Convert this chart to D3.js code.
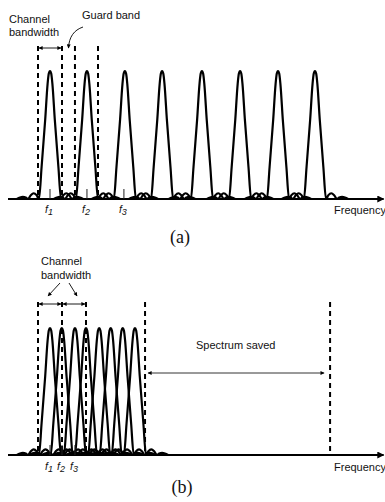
<!DOCTYPE html>
<html>
<head>
<meta charset="utf-8">
<script src="https://cdn.jsdelivr.net/npm/d3@7"></script>
<style>
  html, body { margin: 0; padding: 0; background: #fff; }
  text { font-family: "Liberation Sans", Arial, sans-serif; fill: #111; }
</style>
</head>
<body>
<div id="chart"></div>
<script>
// frequency unit = one channel bandwidth
const carriersA = [0.5, 2.04, 3.62, 5.17, 6.83, 8.42, 10.0, 11.54];
const carriersB = [0.5, 0.99, 1.54, 2.0, 2.55, 3.03, 3.53, 4.04];
const dashedA = [0, 1, 1.54, 2.5];
const dashedB = [0, 1, 2, 4.46, 12.17];
const fTicksA = [0.5, 2.04, 3.58];
const fTicksB = [0.5, 1.0, 1.54];
const fLabels = ['1', '2', '3'];
const bandwidthArrowsB = [[0, 1], [1, 2]];
const savedRange = [4.46, 12.17];
const axisRange = [-1.25, 14.4];
// one carrier's spectrum shape: [offset from centre, relative level]
const lobe = [
  [-1.38, 0], [-1.25, 0.012], [-1.13, 0.016], [-1.01, 0.012], [-0.92, 0],
  [-0.8, 0.03], [-0.68, 0.045], [-0.56, 0.03], [-0.46, 0],
  [-0.35, 0.25], [-0.2, 0.62], [-0.1, 0.9], [-0.05, 0.98], [0, 1],
  [0.05, 0.98], [0.1, 0.9], [0.2, 0.62], [0.35, 0.25],
  [0.46, 0], [0.56, 0.03], [0.68, 0.045], [0.8, 0.03], [0.92, 0],
  [1.01, 0.012], [1.13, 0.016], [1.25, 0.012], [1.38, 0]
];

const W = 385, H = 502;
const svg = d3.select('#chart').append('svg')
  .attr('width', W).attr('height', H);

const defs = svg.append('defs');
defs.append('marker').attr('id', 'axisHead')
  .attr('viewBox', '0 0 10 10').attr('refX', 9).attr('refY', 5)
  .attr('markerWidth', 10).attr('markerHeight', 7).attr('markerUnits', 'userSpaceOnUse')
  .attr('orient', 'auto')
  .append('path').attr('d', 'M0,0L10,5L0,10Z').attr('fill', '#000');
defs.append('marker').attr('id', 'smallHead')
  .attr('viewBox', '0 0 10 10').attr('refX', 9).attr('refY', 5)
  .attr('markerWidth', 5).attr('markerHeight', 4).attr('markerUnits', 'userSpaceOnUse')
  .attr('orient', 'auto-start-reverse')
  .append('path').attr('d', 'M0,0L10,5L0,10Z').attr('fill', '#000');

const x = d3.scaleLinear().domain([0, 1]).range([38, 62]);

const lobeLine = (y, c) => d3.line()
  .x(d => x(c + d[0]))
  .y(d => y(d[1]))
  .curve(d3.curveMonotoneX)(lobe);

function drawPanel(y, carriers, dashed, ticks, dashTop, labelY) {
  const g = svg.append('g');
  const base = y(0);

  // dashed channel edges
  g.selectAll('.edge').data(dashed).enter().append('line')
    .attr('x1', d => x(d)).attr('x2', d => x(d))
    .attr('y1', dashTop).attr('y2', base)
    .attr('stroke', '#000').attr('stroke-width', 2)
    .attr('stroke-dasharray', '5,4');

  // carriers
  g.selectAll('.carrier').data(carriers).enter().append('path')
    .attr('d', d => lobeLine(y, d))
    .attr('fill', 'none').attr('stroke', '#000')
    .attr('stroke-width', 2.2).attr('stroke-linejoin', 'round');

  // frequency axis
  g.append('line')
    .attr('x1', x(axisRange[0])).attr('x2', x(axisRange[1]))
    .attr('y1', base).attr('y2', base)
    .attr('stroke', '#000').attr('stroke-width', 2.2)
    .attr('marker-end', 'url(#axisHead)');

  g.selectAll('.tick').data(ticks).enter().append('line')
    .attr('x1', d => x(d)).attr('x2', d => x(d))
    .attr('y1', base).attr('y2', base - 10)
    .attr('stroke', '#222').attr('stroke-width', 1);

  const lab = g.selectAll('.flab').data(ticks).enter().append('text')
    .attr('x', d => x(d) - 1).attr('y', labelY)
    .attr('text-anchor', 'middle')
    .style('font-size', '10.5px').style('font-style', 'italic');
  lab.append('tspan').text('f');
  lab.append('tspan').attr('dy', 1.5).style('font-size', '9px')
    .text((d, i) => fLabels[i]);

  g.append('text').attr('x', 334).attr('y', labelY + 1)
    .style('font-size', '11px').text('Frequency');
  return g;
}

// ---- panel (a)
const yA = d3.scaleLinear().domain([0, 1]).range([199, 71]);
const gA = drawPanel(yA, carriersA, dashedA, fTicksA, 46, 213);

gA.append('text').attr('x', 9).attr('y', 23).style('font-size', '11px').text('Channel');
gA.append('text').attr('x', 9).attr('y', 36).style('font-size', '11px').text('bandwidth');
gA.append('line')
  .attr('x1', x(0) + 1).attr('x2', x(1) - 1).attr('y1', 48).attr('y2', 48)
  .attr('stroke', '#000').attr('stroke-width', 0.9)
  .attr('marker-start', 'url(#smallHead)').attr('marker-end', 'url(#smallHead)');
gA.append('text').attr('x', 82).attr('y', 19).style('font-size', '11px').text('Guard band');
gA.append('path')
  .attr('d', 'M83,27 C74,30 69,37 68.5,48')
  .attr('fill', 'none').attr('stroke', '#000').attr('stroke-width', 0.9)
  .attr('marker-end', 'url(#smallHead)');
gA.append('text').attr('x', 180).attr('y', 243).attr('text-anchor', 'middle')
  .style('font-family', '"Liberation Serif", "Times New Roman", serif')
  .style('font-size', '18px').text('(a)');

// ---- panel (b)
const yB = d3.scaleLinear().domain([0, 1]).range([455, 328]);
const gB = drawPanel(yB, carriersB, dashedB, fTicksB, 302, 470);

gB.append('text').attr('x', 41).attr('y', 265).style('font-size', '11px').text('Channel');
gB.append('text').attr('x', 41).attr('y', 279).style('font-size', '11px').text('bandwidth');
gB.selectAll('.bw').data(bandwidthArrowsB).enter().append('line')
  .attr('x1', d => x(d[0]) + 1).attr('x2', d => x(d[1]) - 1)
  .attr('y1', 304).attr('y2', 304)
  .attr('stroke', '#000').attr('stroke-width', 0.9)
  .attr('marker-start', 'url(#smallHead)').attr('marker-end', 'url(#smallHead)');
gB.append('line').attr('x1', 60).attr('y1', 283).attr('x2', 48).attr('y2', 296)
  .attr('stroke', '#000').attr('stroke-width', 0.9).attr('marker-end', 'url(#smallHead)');
gB.append('line').attr('x1', 69).attr('y1', 283).attr('x2', 77).attr('y2', 296)
  .attr('stroke', '#000').attr('stroke-width', 0.9).attr('marker-end', 'url(#smallHead)');

gB.append('text').attr('x', 196).attr('y', 349).style('font-size', '11px').text('Spectrum saved');
gB.append('line')
  .attr('x1', x(savedRange[0]) + 3).attr('x2', x(savedRange[1]) - 6)
  .attr('y1', 373).attr('y2', 373)
  .attr('stroke', '#000').attr('stroke-width', 0.8)
  .attr('marker-start', 'url(#smallHead)').attr('marker-end', 'url(#smallHead)');
gB.append('text').attr('x', 182).attr('y', 493).attr('text-anchor', 'middle')
  .style('font-family', '"Liberation Serif", "Times New Roman", serif')
  .style('font-size', '18px').text('(b)');
</script>
</body>
</html>
